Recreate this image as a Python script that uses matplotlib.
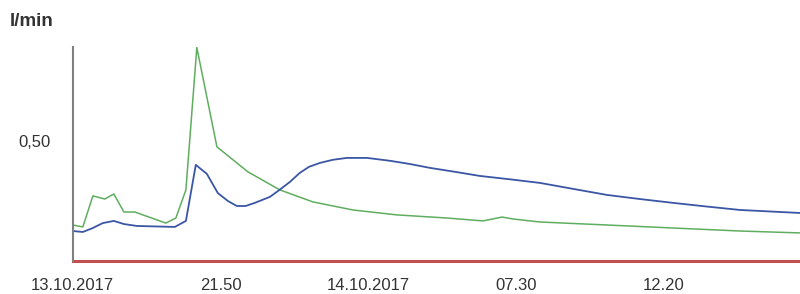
import matplotlib
matplotlib.use("Agg")
import matplotlib.pyplot as plt

plt.rcParams['font.family'] = ['Liberation Sans', 'DejaVu Sans']

# x in tick steps (one step between two labelled ticks)
tick_pos = [0, 1, 2, 3, 4]
tick_labels = ['13.10.2017', '21.50', '14.10.2017', '07.30', '12.20']

green_x = [0, 0.068, 0.136, 0.217, 0.278, 0.346, 0.42, 0.63, 0.698, 0.766, 0.84,
           0.976, 1.186, 1.402, 1.626, 1.897, 2.195, 2.534, 2.778, 2.907, 2.981,
           3.164, 3.618, 4.065, 4.519, 4.925]
green_y = [0.150, 0.142, 0.271, 0.258, 0.279, 0.204, 0.204, 0.158, 0.179, 0.296, 0.888,
           0.475, 0.371, 0.296, 0.246, 0.2125, 0.192, 0.179, 0.167, 0.183, 0.175,
           0.1625, 0.150, 0.1375, 0.125, 0.117]

blue_x = [0, 0.068, 0.136, 0.203, 0.278, 0.346, 0.434, 0.691, 0.766, 0.833, 0.908,
          0.982, 1.05, 1.111, 1.17, 1.233, 1.335, 1.40, 1.47, 1.538, 1.60, 1.673,
          1.76, 1.856, 1.992, 2.148, 2.28, 2.419, 2.59, 2.757, 2.96, 3.164, 3.39,
          3.618, 3.84, 4.065, 4.29, 4.519, 4.925]
blue_y = [0.125, 0.121, 0.1375, 0.158, 0.167, 0.154, 0.146, 0.142, 0.167, 0.400, 0.3625,
          0.283, 0.250, 0.229, 0.229, 0.242, 0.267, 0.296, 0.329, 0.367, 0.392, 0.408,
          0.421, 0.429, 0.429, 0.417, 0.404, 0.3875, 0.371, 0.354, 0.340, 0.325, 0.300,
          0.275, 0.258, 0.242, 0.227, 0.2125, 0.200]

fig = plt.figure(figsize=(8, 2.94), dpi=100)
ax = fig.add_axes([0.091, 0.112, 0.909, 0.728])

ax.plot(green_x, green_y, color='#5fae5f', lw=1.1)
ax.plot(blue_x, blue_y, color='#3a56a5', lw=1.3)
ax.axhline(0, color='#c0504d', lw=2.2, clip_on=False)

ax.set_xlim(0, 4.925)
ax.set_ylim(0, 0.89)
ax.set_xticks(tick_pos)
ax.set_xticklabels(tick_labels)
ax.set_yticks([0.5])
ax.set_yticklabels(['0,50'])
ax.tick_params(axis='both', length=0, labelsize=12, labelcolor='#333333')
ax.tick_params(axis='x', pad=12)
ax.tick_params(axis='y', pad=16)

for s in ['top', 'right', 'bottom']:
    ax.spines[s].set_visible(False)
ax.spines['left'].set_color('#808080')
ax.spines['left'].set_linewidth(1.5)

fig.text(0.012, 1 - 22 / 294, 'l/min', fontsize=13.5, fontweight='bold',
         color='#333333', va='center', ha='left')

fig.savefig('out.png', dpi=100)
